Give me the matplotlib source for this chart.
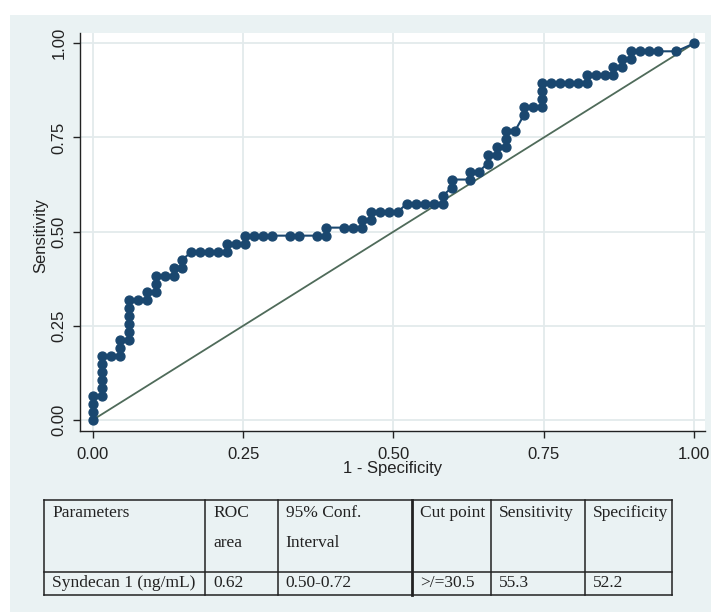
"""ROC curve for Syndecan 1 with a summary table underneath.

Writes out.png in the working directory.
"""

import matplotlib

matplotlib.use("Agg")
import matplotlib.pyplot as plt
from matplotlib.patches import Rectangle

plt.rcParams["font.family"] = ["Liberation Sans", "DejaVu Sans"]

# group sizes behind the curve
N_NEG = 67
N_POS = 47

# cumulative false / true positives at each cut point
FP_COUNTS = [
    0, 0, 0, 0,
    1, 1, 1, 1, 1, 1,
    2, 3, 3, 3,
    4, 4, 4, 4, 4, 4,
    5, 6, 6, 7, 7, 7,
    8, 9, 9, 10, 10,
    11, 12, 13, 14, 15,
    15, 16, 17, 17,
    18, 19, 20, 22, 23, 25, 26,
    26, 28, 29, 30,
    30, 31, 31, 32, 33, 34,
    35, 36, 37, 38, 39,
    39, 40, 40,
    42, 42, 43, 44, 44, 45, 45, 46, 46, 46, 47,
    48, 48, 49, 50, 50, 50, 50,
    51, 52, 53, 54, 55,
    55, 56, 57, 58,
    58, 59, 59, 60, 60, 61, 62, 63, 65, 67,
]
TP_COUNTS = [
    0, 1, 2, 3,
    3, 4, 5, 6, 7, 8,
    8, 8, 9, 10,
    10, 11, 12, 13, 14, 15,
    15, 15, 16, 16, 17, 18,
    18, 18, 19, 19, 20,
    21, 21, 21, 21, 21,
    22, 22, 22, 23,
    23, 23, 23, 23, 23, 23, 23,
    24, 24, 24, 24,
    25, 25, 26, 26, 26, 26,
    27, 27, 27, 27, 27,
    28, 29, 30,
    30, 31, 31, 32, 33, 33, 34, 34, 35, 36, 36,
    38, 39, 39, 39, 40, 41, 42,
    42, 42, 42, 42, 42,
    43, 43, 43, 43,
    44, 44, 45, 45, 46, 46, 46, 46, 46, 47,
]

TICKS = [0.0, 0.25, 0.5, 0.75, 1.0]

TABLE_HEADER = ["Parameters", "ROC\narea", "95% Conf.\nInterval",
                "Cut point", "Sensitivity", "Specificity"]
TABLE_ROW = ["Syndecan 1 (ng/mL)", "0.62", "0.50-0.72", ">/=30.5", "55.3", "52.2"]

PANEL = "#eaf2f3"
GRID = "#e3eaec"
NAVY = "#1a476f"
REF = "#4f6b5a"
INK = "#222222"

W, H = 711, 612


def px_box(left, top, right, bottom):
    """Figure-fraction rectangle from pixel edges (origin top-left)."""
    return [left / W, 1 - bottom / H, (right - left) / W, (bottom - top) / H]


fig = plt.figure(figsize=(W / 100, H / 100), dpi=100)
fig.patch.set_facecolor("white")
fig.add_artist(Rectangle((10 / W, 0), 1 - 10 / W, 1 - 15 / H,
                         transform=fig.transFigure, facecolor=PANEL,
                         edgecolor="none", zorder=-10))

# --- ROC plot ---
ax = fig.add_axes(px_box(80, 33, 705, 431))
ax.set_facecolor("white")
ax.set_xlim(-0.0211, 1.0178)
ax.set_ylim(-0.0292, 1.0273)

fpr = [c / N_NEG for c in FP_COUNTS]
tpr = [c / N_POS for c in TP_COUNTS]

ax.plot([0, 1], [0, 1], color=REF, lw=1.3, zorder=2)
ax.plot(fpr, tpr, color=NAVY, lw=1.5, marker="o", ms=6.4,
        mfc=NAVY, mec=NAVY, zorder=3)

ax.set_xticks(TICKS)
ax.set_yticks(TICKS)
ax.set_xticklabels([f"{t:.2f}" for t in TICKS])
ax.set_yticklabels([f"{t:.2f}" for t in TICKS], rotation=90, va="center")
ax.grid(True, color=GRID, lw=1.3)
ax.set_axisbelow(True)

for side in ("top", "right"):
    ax.spines[side].set_visible(False)
for side in ("left", "bottom"):
    ax.spines[side].set_color(INK)
    ax.spines[side].set_linewidth(1.0)

ax.tick_params(length=5, width=1, color=INK, labelcolor=INK, labelsize=12)
ax.tick_params(axis="x", pad=6.5)
ax.tick_params(axis="y", pad=4.5)

ax.set_xlabel("1 - Specificity", fontsize=12, color=INK)
ax.xaxis.set_label_coords(0.5, -0.076)
ax.set_ylabel("Sensitivity", fontsize=12, color=INK)
ax.yaxis.set_label_coords(-0.051, 0.49)

# --- summary table ---
COL_EDGES = [0, 161, 233.5, 368, 447, 541, 628]
ROW_EDGES = [0, 71.5, 94.5]

tab = fig.add_axes(px_box(44, 500, 672, 594.5))
tab.set_xlim(0, 628)
tab.set_ylim(94.5, 0)
tab.axis("off")

for y in ROW_EDGES:
    tab.plot([0, 628], [y, y], color=INK, lw=1.1, clip_on=False)
for i, x in enumerate(COL_EDGES):
    tab.plot([x, x], [0, 94.5], color=INK, lw=2.0 if i == 3 else 1.1,
             clip_on=False)

cell_font = dict(family=["Liberation Serif", "DejaVu Serif"], fontsize=12.5,
                 color=INK, ha="left", va="center")
for x, label in zip(COL_EDGES, TABLE_HEADER):
    for j, line in enumerate(label.split("\n")):
        tab.text(x + 8, 13 + 30 * j, line, **cell_font)
for x, value in zip(COL_EDGES, TABLE_ROW):
    tab.text(x + 8, 83, value, **cell_font)

fig.savefig("out.png", dpi=100, facecolor=fig.get_facecolor())
